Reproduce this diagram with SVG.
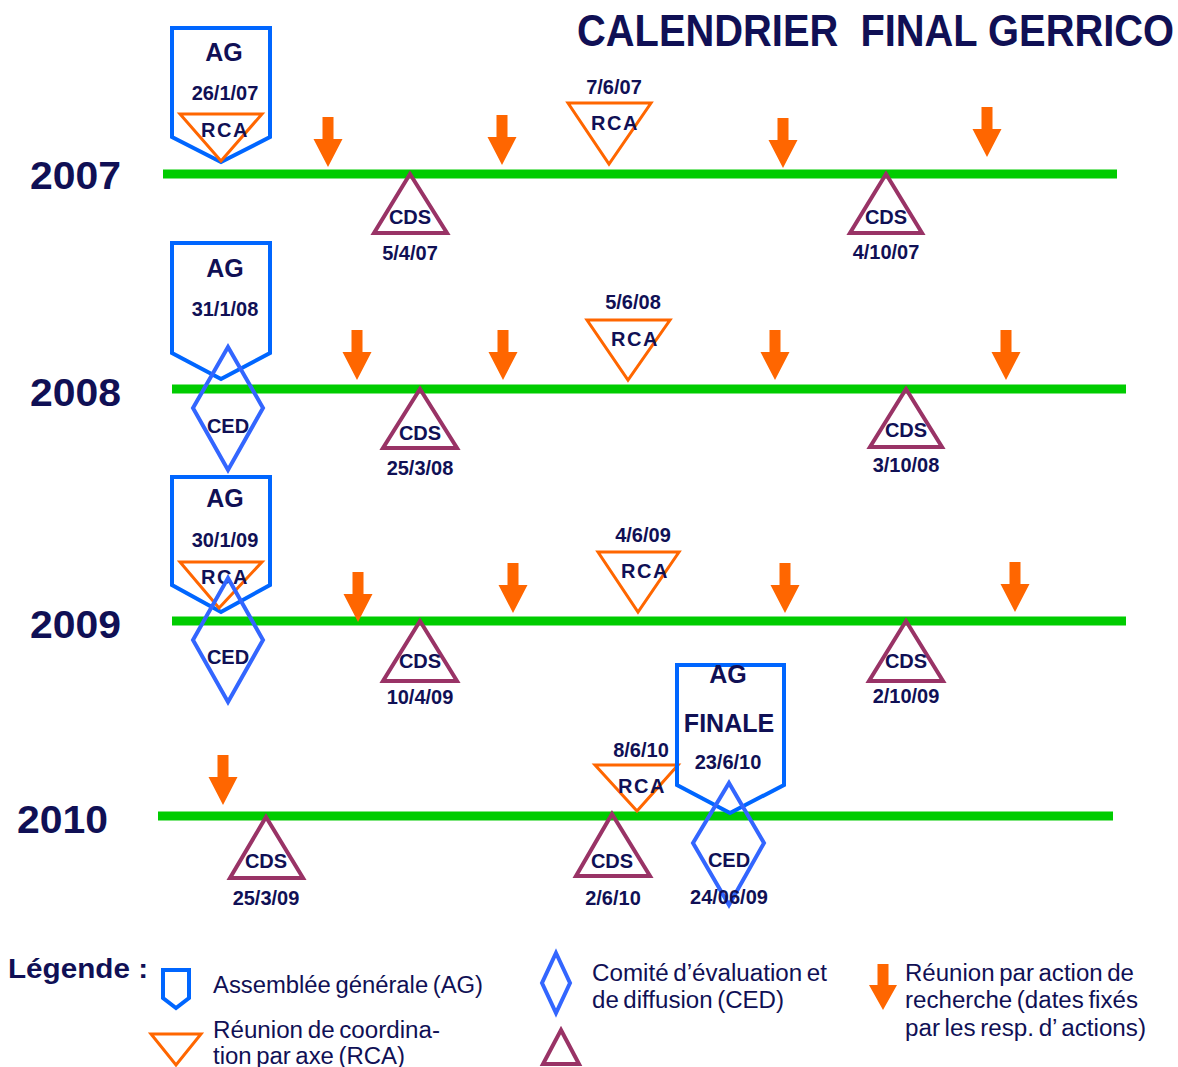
<svg xmlns="http://www.w3.org/2000/svg" width="1178" height="1067" viewBox="0 0 1178 1067">
<style>
text{font-family:"Liberation Sans",Arial,sans-serif;fill:#101055}
.b{font-weight:bold}
.lbl{font-weight:bold;font-size:20px;text-anchor:middle}
.ag{font-weight:bold;font-size:25px;text-anchor:middle}
.yr{font-weight:bold;font-size:39px}
.lg{font-size:23px;word-spacing:-2px}
.tl{stroke:#00cc00;stroke-width:9;fill:none}
.agS{fill:none;stroke:#0066ff;stroke-width:4}
.rca{fill:none;stroke:#ff6600;stroke-width:3}
.cds{fill:none;stroke:#993366;stroke-width:4}
.ced{fill:none;stroke:#3366ff;stroke-width:4}
.arr{fill:#ff6600}
</style>
<defs>
<path id="arr" class="arr" d="M-5.5,0 H5.5 V22 H14.5 L0,50 L-14.5,22 H-5.5 Z"/>
</defs>
<rect width="1178" height="1067" fill="#ffffff"/>
<text id="title" class="b" transform="translate(577,46) scale(0.906,1)" x="0" y="0" font-size="44" style="white-space:pre">CALENDRIER  FINAL GERRICO</text>

<g id="years">
<text class="yr" x="30" y="189" textLength="91" lengthAdjust="spacingAndGlyphs">2007</text>
<text class="yr" x="30" y="406" textLength="91" lengthAdjust="spacingAndGlyphs">2008</text>
<text class="yr" x="30" y="638" textLength="91" lengthAdjust="spacingAndGlyphs">2009</text>
<text class="yr" x="17" y="833" textLength="91" lengthAdjust="spacingAndGlyphs">2010</text>
</g>

<g id="connectors">
<line class="tl" x1="163" y1="174" x2="1117" y2="174"/>
<line class="tl" x1="172" y1="389" x2="1126" y2="389"/>
<line class="tl" x1="172" y1="621" x2="1126" y2="621"/>
<line class="tl" x1="158" y1="816" x2="1113" y2="816"/>
</g>

<!-- 2007 -->
<g id="ag2007">
<path class="agS" d="M172,28 H270 V137 L221,162 L172,137 Z"/>
<text class="ag" x="224" y="61">AG</text>
<text class="lbl" x="225" y="100">26/1/07</text>
</g>
<g id="rca2007a">
<path class="rca" d="M180,114 H262 L221,161 Z"/>
<text class="lbl" x="225" y="137" font-size="19" letter-spacing="1.5">RCA</text>
</g>
<g id="rca2007b">
<text class="lbl" x="614" y="94">7/6/07</text>
<path class="rca" d="M568,103 H651 L609,164 Z"/>
<text class="lbl" x="615" y="130" font-size="19" letter-spacing="1.5">RCA</text>
</g>
<g id="cds2007a">
<path class="cds" d="M410,174 L447,233 H374 Z"/>
<text class="lbl" x="410" y="224">CDS</text>
<text class="lbl" x="410" y="260">5/4/07</text>
</g>
<g id="cds2007b">
<path class="cds" d="M886,174 L922,233 H850 Z"/>
<text class="lbl" x="886" y="224">CDS</text>
<text class="lbl" x="886" y="259">4/10/07</text>
</g>
<g id="arrows2007">
<use href="#arr" x="328" y="117"/>
<use href="#arr" x="502" y="115"/>
<use href="#arr" x="783" y="118"/>
<use href="#arr" x="987" y="107"/>
</g>

<!-- 2008 -->
<g id="ag2008">
<path class="agS" d="M172,243 H270 V353 L221,379 L172,353 Z"/>
<text class="ag" x="225" y="277">AG</text>
<text class="lbl" x="225" y="316">31/1/08</text>
</g>
<g id="ced2008">
<path class="ced" d="M228,347 L263,408 L228,470 L193,408 Z"/>
<text class="lbl" x="228" y="433">CED</text>
</g>
<g id="rca2008">
<text class="lbl" x="633" y="309">5/6/08</text>
<path class="rca" d="M587,320 H670 L628,380 Z"/>
<text class="lbl" x="635" y="346" font-size="19" letter-spacing="1.5">RCA</text>
</g>
<g id="cds2008a">
<path class="cds" d="M420,389 L457,448 H383 Z"/>
<text class="lbl" x="420" y="440">CDS</text>
<text class="lbl" x="420" y="475">25/3/08</text>
</g>
<g id="cds2008b">
<path class="cds" d="M906,389 L942,447 H870 Z"/>
<text class="lbl" x="906" y="437">CDS</text>
<text class="lbl" x="906" y="472">3/10/08</text>
</g>
<g id="arrows2008">
<use href="#arr" x="357" y="330"/>
<use href="#arr" x="503" y="330"/>
<use href="#arr" x="775" y="330"/>
<use href="#arr" x="1006" y="330"/>
</g>

<!-- 2009 -->
<g id="ag2009">
<path class="agS" d="M172,477 H270 V585 L221,612 L172,585 Z"/>
<text class="ag" x="225" y="507">AG</text>
<text class="lbl" x="225" y="547">30/1/09</text>
</g>
<g id="rca2009a">
<path class="rca" d="M180,562 H262 L219,608 Z"/>
<text class="lbl" x="225" y="584" font-size="19" letter-spacing="1.5">RCA</text>
</g>
<g id="ced2009">
<path class="ced" d="M228,578 L263,640 L228,702 L193,640 Z"/>
<text class="lbl" x="228" y="664">CED</text>
</g>
<g id="rca2009b">
<text class="lbl" x="643" y="542">4/6/09</text>
<path class="rca" d="M598,552 H679 L638,612 Z"/>
<text class="lbl" x="645" y="578" font-size="19" letter-spacing="1.5">RCA</text>
</g>
<g id="cds2009a">
<path class="cds" d="M420,621 L457,681 H383 Z"/>
<text class="lbl" x="420" y="668">CDS</text>
<text class="lbl" x="420" y="704">10/4/09</text>
</g>
<g id="cds2009b">
<path class="cds" d="M906,621 L943,681 H869 Z"/>
<text class="lbl" x="906" y="668">CDS</text>
<text class="lbl" x="906" y="703">2/10/09</text>
</g>
<g id="arrows2009">
<use href="#arr" x="358" y="572"/>
<use href="#arr" x="513" y="563"/>
<use href="#arr" x="785" y="563"/>
<use href="#arr" x="1015" y="562"/>
</g>

<!-- 2010 -->
<g id="arrows2010">
<use href="#arr" x="223" y="755"/>
</g>
<g id="cds2010a">
<path class="cds" d="M266,817 L303,878 H230 Z"/>
<text class="lbl" x="266" y="868">CDS</text>
<text class="lbl" x="266" y="905">25/3/09</text>
</g>
<g id="cds2010b">
<path class="cds" d="M612,814 L650,876 H576 Z"/>
<text class="lbl" x="612" y="868">CDS</text>
<text class="lbl" x="613" y="905">2/6/10</text>
</g>
<g id="rca2010">
<text class="lbl" x="641" y="757">8/6/10</text>
<path class="rca" d="M595,765 H678 L637,811 Z"/>
<text class="lbl" x="642" y="793" font-size="19" letter-spacing="1.5">RCA</text>
</g>
<g id="agfinale">
<path class="agS" d="M677,665 H784 V785 L730,813 L677,785 Z"/>
<text class="ag" x="728" y="683" font-size="26">AG</text>
<text class="ag" x="729" y="732" font-size="27">FINALE</text>
<text class="lbl" x="728" y="769">23/6/10</text>
</g>
<g id="ced2010">
<path class="ced" d="M729,783 L764,843 L729,905 L693,843 Z"/>
<text class="lbl" x="729" y="867">CED</text>
<text class="lbl" x="729" y="904">24/06/09</text>
</g>

<!-- Legend -->
<g id="legend">
<text class="b" x="8" y="978" font-size="28" textLength="140" lengthAdjust="spacingAndGlyphs">Légende :</text>
<path class="agS" d="M163,970 H189 V998 L176,1008 L163,998 Z"/>
<text class="lg" x="213" y="993" textLength="270" lengthAdjust="spacingAndGlyphs">Assemblée générale (AG)</text>
<path class="rca" d="M151,1034 H201 L176,1065 Z"/>
<text class="lg" x="213" y="1038" textLength="227" lengthAdjust="spacingAndGlyphs">Réunion de coordina-</text>
<text class="lg" x="213" y="1064" textLength="192" lengthAdjust="spacingAndGlyphs">tion par axe (RCA)</text>
<path class="ced" d="M556,953 L570,983 L556,1013 L542,983 Z"/>
<text class="lg" x="592" y="981" textLength="235" lengthAdjust="spacingAndGlyphs">Comité d’évaluation et</text>
<text class="lg" x="592" y="1008" textLength="192" lengthAdjust="spacingAndGlyphs">de diffusion (CED)</text>
<path class="cds" d="M561,1030 L579,1064 H543 Z"/>
<path class="arr" d="M877.5,964 H888.5 V985 H897 L883,1010 L869,985 H877.5 Z"/>
<text class="lg" x="905" y="981" textLength="229" lengthAdjust="spacingAndGlyphs">Réunion par action de</text>
<text class="lg" x="905" y="1008" textLength="233" lengthAdjust="spacingAndGlyphs">recherche (dates fixés</text>
<text class="lg" x="905" y="1036" textLength="241" lengthAdjust="spacingAndGlyphs">par les resp. d’ actions)</text>
</g>
</svg>
